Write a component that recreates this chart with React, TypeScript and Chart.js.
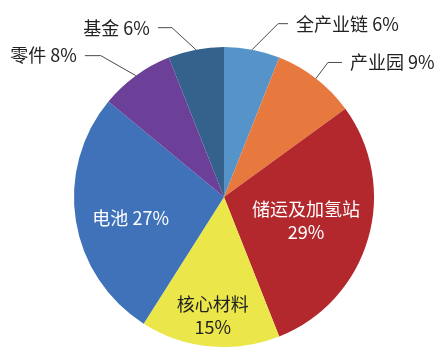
import React, { useEffect, useRef } from "react";
import { Chart, registerables } from "chart.js";

Chart.register(...registerables);

const categories = ["全产业链", "产业园", "储运及加氢站", "核心材料", "电池", "零件", "基金"];
const shares = [6, 9, 29, 15, 27, 8, 6];
const colors = ["#5593c9", "#e8793e", "#b3282d", "#ebe74b", "#3f72b9", "#6c3f98", "#35628d"];

const FONT = '"Noto Sans CJK SC", "Noto Sans", sans-serif';

// label style per slice: outside (leader line) or inside
type LabelCfg =
  | { kind: "out"; elbow: [number, number]; run: number; lines: string[] }
  | { kind: "in"; rf: number; dy: number; color: string; lines: string[] };

const labelCfg: LabelCfg[] = [
  { kind: "out", elbow: [26, -26], run: 10, lines: ["全产业链 6%"] },
  { kind: "out", elbow: [12, -16], run: 14, lines: ["产业园 9%"] },
  { kind: "in", rf: 0.57, dy: 0, color: "#ffffff", lines: ["储运及加氢站", "29%"] },
  { kind: "in", rf: 0.79, dy: 1, color: "#222222", lines: ["核心材料", "15%"] },
  { kind: "in", rf: 0.63, dy: 6, color: "#ffffff", lines: ["电池 27%"] },
  { kind: "out", elbow: [-35, -20], run: 16, lines: ["零件 8%"] },
  { kind: "out", elbow: [-24, -22], run: 14, lines: ["基金 6%"] },
];

const labelPlugin = {
  id: "pieLabels",
  afterDatasetsDraw(chart: any) {
    const ctx = chart.ctx;
    const meta = chart.getDatasetMeta(0);
    ctx.save();
    ctx.font = `18px ${FONT}`;
    ctx.textBaseline = "middle";
    meta.data.forEach((arc: any, i: number) => {
      const cfg = labelCfg[i];
      const mid = (arc.startAngle + arc.endAngle) / 2;
      const R = arc.outerRadius;
      if (cfg.kind === "out") {
        const sx = arc.x + Math.cos(mid) * R;
        const sy = arc.y + Math.sin(mid) * R;
        const ex = sx + cfg.elbow[0];
        const ey = sy + cfg.elbow[1];
        const dir = cfg.elbow[0] >= 0 ? 1 : -1;
        const hx = ex + dir * cfg.run;
        ctx.strokeStyle = "#4a4a4a";
        ctx.lineWidth = 1;
        ctx.beginPath();
        ctx.moveTo(sx, sy);
        ctx.lineTo(ex, ey);
        ctx.lineTo(hx, ey);
        ctx.stroke();
        ctx.fillStyle = "#222222";
        ctx.textAlign = dir > 0 ? "left" : "right";
        ctx.fillText(cfg.lines[0], hx + dir * 8, ey);
      } else {
        const r = R * cfg.rf;
        const cx = arc.x + Math.cos(mid) * r;
        const cy = arc.y + Math.sin(mid) * r + cfg.dy;
        ctx.fillStyle = cfg.color;
        ctx.textAlign = "center";
        const lh = 23;
        const n = cfg.lines.length;
        cfg.lines.forEach((t, k) => {
          ctx.fillText(t, cx, cy + (k - (n - 1) / 2) * lh);
        });
      }
    });
    ctx.restore();
  },
};

export default function App() {
  const ref = useRef<HTMLCanvasElement | null>(null);
  useEffect(() => {
    document.body.style.margin = "0";
    const chart = new Chart(ref.current as HTMLCanvasElement, {
      type: "pie",
      data: {
        labels: categories,
        datasets: [
          {
            data: shares,
            backgroundColor: colors,
            borderWidth: 0,
          },
        ],
      },
      options: {
        animation: false,
        responsive: false,
        maintainAspectRatio: false,
        layout: { padding: { top: 47, bottom: 13, left: 74, right: 67 } },
        plugins: {
          legend: { display: false },
          tooltip: { enabled: false },
        },
      },
      plugins: [labelPlugin],
    });
    return () => chart.destroy();
  }, []);
  return (
    <div style={{ width: 441, height: 360, background: "#ffffff" }}>
      <canvas ref={ref} width={441} height={360} style={{ display: "block" }} />
    </div>
  );
}
